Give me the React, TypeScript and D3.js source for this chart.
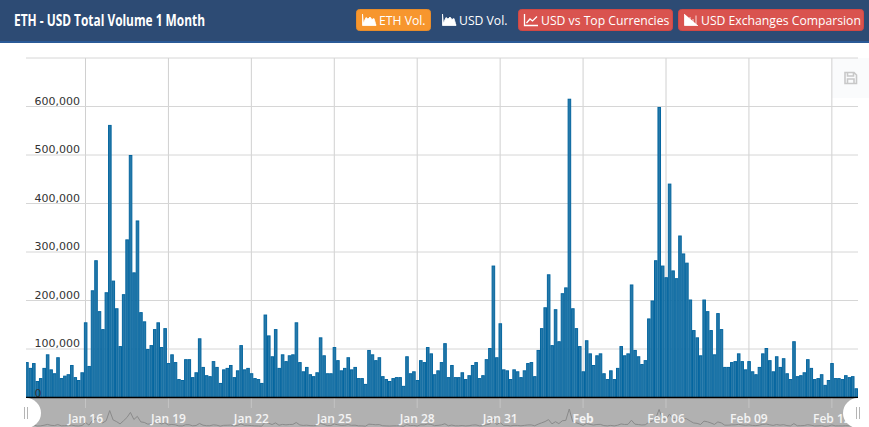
import { useEffect, useRef } from 'react';
import * as d3 from 'd3';

const W = 869;
const H = 427;

// volume per 3 hour bar, in thousands
const volumes = [
  72, 60, 70, 33, 39, 60, 88, 57, 49, 82, 39, 44, 47, 66, 41, 35, 51, 154, 64, 220,
  282, 177, 140, 216, 561, 240, 183, 105, 212, 325, 499, 257, 364, 175, 156, 99, 107, 140, 154, 103,
  142, 70, 88, 72, 37, 35, 78, 78, 41, 51, 121, 62, 45, 43, 74, 62, 29, 57, 60, 66,
  41, 55, 107, 57, 60, 49, 39, 37, 29, 170, 127, 84, 140, 60, 88, 74, 86, 88, 154, 72,
  53, 62, 47, 43, 51, 123, 86, 49, 49, 103, 76, 55, 60, 82, 57, 62, 39, 39, 27, 97,
  88, 76, 82, 43, 37, 33, 39, 41, 41, 23, 84, 49, 53, 35, 76, 72, 103, 90, 47, 55,
  72, 111, 41, 66, 41, 41, 51, 37, 45, 66, 72, 39, 45, 78, 101, 271, 82, 152, 57, 55,
  37, 57, 53, 41, 55, 70, 72, 43, 97, 142, 185, 253, 107, 181, 115, 214, 226, 615, 183, 142,
  105, 53, 117, 90, 66, 86, 90, 49, 37, 55, 37, 60, 105, 86, 90, 232, 97, 84, 68, 76,
  162, 199, 282, 598, 271, 247, 440, 261, 245, 333, 296, 277, 201, 138, 123, 86, 201, 177, 138, 88,
  173, 140, 62, 62, 72, 74, 90, 74, 57, 74, 53, 47, 62, 90, 101, 76, 53, 84, 62, 80,
  49, 37, 115, 43, 45, 51, 78, 60, 37, 39, 47, 25, 35, 70, 39, 39, 37, 45, 41, 43, 18,
];
const startTime = Date.UTC(2018, 0, 13, 21);
const yTicks = [0, 100000, 200000, 300000, 400000, 500000, 600000];
const xTickDates = [
  Date.UTC(2018, 0, 16), Date.UTC(2018, 0, 19), Date.UTC(2018, 0, 22), Date.UTC(2018, 0, 25),
  Date.UTC(2018, 0, 28), Date.UTC(2018, 0, 31), Date.UTC(2018, 1, 3), Date.UTC(2018, 1, 6),
  Date.UTC(2018, 1, 9), Date.UTC(2018, 1, 12),
];
const xTickLabels = ['Jan 16', 'Jan 19', 'Jan 22', 'Jan 25', 'Jan 28', 'Jan 31', 'Feb', 'Feb 06', 'Feb 09', 'Feb 12'];
const buttons = [
  { label: 'ETH Vol.', x: 356, w: 75, fill: '#f7962e', stroke: '#e98d2b', icon: 'area' },
  { label: 'USD Vol.', x: 436, w: 76, fill: 'none', stroke: 'none', icon: 'area' },
  { label: 'USD vs Top Currencies', x: 518, w: 155, fill: '#d9534f', stroke: '#d24844', icon: 'line' },
  { label: 'USD Exchanges Comparsion', x: 678, w: 186, fill: '#d9534f', stroke: '#d24844', icon: 'bar' },
];

const threeHours = 3 * 3600 * 1000;

export default function App() {
  const svgRef = useRef<SVGSVGElement | null>(null);

  useEffect(() => {
    if (!svgRef.current) return;
    const svg = d3.select(svgRef.current);
    svg.selectAll('*').remove();

    const left = 26;
    const right = 858;
    const top = 58;
    const bottom = 397.5;

    const x = d3.scaleTime()
      .domain([new Date(xTickDates[0]), new Date(xTickDates[7])])
      .range([85.5, 666]);
    const y = d3.scaleLinear().domain([0, 600000]).range([bottom, 106.5]);
    const navY = d3.scaleLinear().domain([0, 615000]).range([427, 409]);

    const rows = volumes.map((v, i) => ({ t: new Date(startTime + i * threeHours), v: v * 1000 }));
    const barW = 3.46;

    svg.append('defs').append('clipPath').attr('id', 'plot')
      .append('rect').attr('x', left).attr('y', 0).attr('width', right - left).attr('height', bottom);

    // header
    svg.append('rect').attr('width', W).attr('height', 42).attr('fill', '#2d4b74');
    svg.append('rect').attr('y', 41).attr('width', W).attr('height', 2).attr('fill', '#2a5a97');
    svg.append('text').attr('x', 14).attr('y', 25.5)
      .attr('font-family', '"Open Sans", sans-serif')
      .attr('font-weight', 700).attr('font-size', 15.5).attr('fill', '#fff')
      .attr('textLength', 191).attr('lengthAdjust', 'spacingAndGlyphs')
      .text('ETH - USD Total Volume 1 Month');

    const btn = svg.selectAll('g.btn').data(buttons).join('g').attr('class', 'btn')
      .attr('transform', d => `translate(${d.x},9)`);
    btn.append('rect').attr('x', 0.5).attr('y', 0.5).attr('width', d => d.w - 1).attr('height', 21).attr('rx', 3)
      .attr('fill', d => d.fill).attr('stroke', d => d.stroke);
    btn.append('path')
      .attr('transform', 'translate(6,5)')
      .attr('fill', d => d.icon === 'line' ? 'none' : '#fff')
      .attr('stroke', '#fff')
      .attr('stroke-width', d => d.icon === 'line' ? 1.3 : 0.8)
      .attr('d', d => {
        if (d.icon === 'area') return 'M0.5,0V11.5H14V10.5H1.5V9L4,3.5L6,5L8,3L10,5.5L12,4.5L13.5,9.5V10.5H1.5Z';
        if (d.icon === 'line') return 'M0.5,0V11.5H14M2.5,9L6,5L8.5,7L13,2.5';
        return 'M0.5,0V11.5H14M3,10.5V6M6,10.5V3M9,10.5V5M12,10.5V1.5';
      });
    btn.append('text').attr('x', 23).attr('y', 15.5)
      .attr('font-family', '"Open Sans", sans-serif').attr('font-size', 12.2).attr('fill', '#fff')
      .text(d => d.label);

    // save icon corner
    svg.append('rect').attr('x', 832).attr('y', top).attr('width', 37).attr('height', 40).attr('fill', '#fafbfc');
    svg.append('path').attr('transform', 'translate(844.5,72)')
      .attr('fill', 'none').attr('stroke', '#c8c8c8').attr('stroke-width', 1.6)
      .attr('d', 'M0.5,0.5H9.5L12,3V11.5H0.5ZM3,0.5V4H9V0.5M3,11.5V7H9.5V11.5');

    // grid
    svg.append('g').selectAll('line').data(xTickDates).join('line')
      .attr('x1', d => x(new Date(d))).attr('x2', d => x(new Date(d)))
      .attr('y1', top).attr('y2', bottom)
      .attr('stroke', '#d0d0d0').attr('stroke-width', 1);
    svg.append('g').selectAll('line').data([...yTicks.slice(1), 700000]).join('line')
      .attr('x1', left).attr('x2', right)
      .attr('y1', d => y(d)).attr('y2', d => y(d))
      .attr('stroke', '#d6d6d6').attr('stroke-width', 1);

    // bars
    svg.append('g').attr('clip-path', 'url(#plot)')
      .selectAll('rect').data(rows).join('rect')
      .attr('x', d => x(d.t) - barW / 2 + 0.6)
      .attr('y', d => y(d.v))
      .attr('width', barW - 0.9)
      .attr('height', d => bottom - y(d.v))
      .attr('fill', '#2679a9')
      .attr('stroke', '#04659f')
      .attr('stroke-width', 1);

    // y labels sit on top of the bars
    svg.append('g').selectAll('text').data(yTicks).join('text')
      .attr('x', 34.5)
      .attr('y', d => d === 0 ? 396.5 : y(d) - 2)
      .attr('font-family', '"DejaVu Sans", Verdana, sans-serif')
      .attr('font-size', 11).attr('fill', '#333')
      .text(d => d3.format(',')(d));

    // navigator strip
    svg.append('rect').attr('x', 0).attr('y', bottom).attr('width', W).attr('height', H - bottom).attr('fill', '#fff');
    svg.append('rect').attr('x', left).attr('y', bottom + 0.5).attr('width', right - left).attr('height', H - bottom).attr('fill', '#b1b1b1');
    svg.append('g').selectAll('line').data(xTickDates).join('line')
      .attr('x1', d => x(new Date(d))).attr('x2', d => x(new Date(d)))
      .attr('y1', bottom).attr('y2', 408)
      .attr('stroke', '#c4c4c4');
    const navLine = d3.line<{ t: Date; v: number }>().x(d => x(d.t)).y(d => navY(d.v));
    svg.append('path').datum(rows).attr('d', navLine)
      .attr('fill', 'none').attr('stroke', '#8a8a8a').attr('stroke-width', 1);
    svg.append('line').attr('x1', left).attr('x2', right).attr('y1', bottom).attr('y2', bottom)
      .attr('stroke', '#000').attr('stroke-width', 1.5);

    svg.append('g').selectAll('text').data(xTickDates).join('text')
      .attr('x', d => x(new Date(d)))
      .attr('y', 423)
      .attr('text-anchor', 'middle')
      .attr('font-family', '"Open Sans", sans-serif')
      .attr('font-size', 12)
      .attr('font-weight', (_, i) => xTickLabels[i] === 'Feb' ? 700 : 600)
      .attr('fill', '#f4f4f4')
      .text((_, i) => xTickLabels[i]);

    // handles
    const handles = svg.append('g').selectAll('g').data([left, right]).join('g')
      .attr('transform', d => `translate(${d},${413})`);
    handles.append('circle').attr('r', 15).attr('fill', '#fff');
    handles.append('path').attr('d', 'M-1.5,-6V6M1.5,-6V6').attr('stroke', '#b5b5b5').attr('fill', 'none');
  }, []);

  return (
    <svg
      ref={svgRef}
      width={W}
      height={H}
      viewBox={`0 0 ${W} ${H}`}
      style={{ position: 'absolute', left: 0, top: 0, display: 'block', background: '#fff' }}
    />
  );
}
